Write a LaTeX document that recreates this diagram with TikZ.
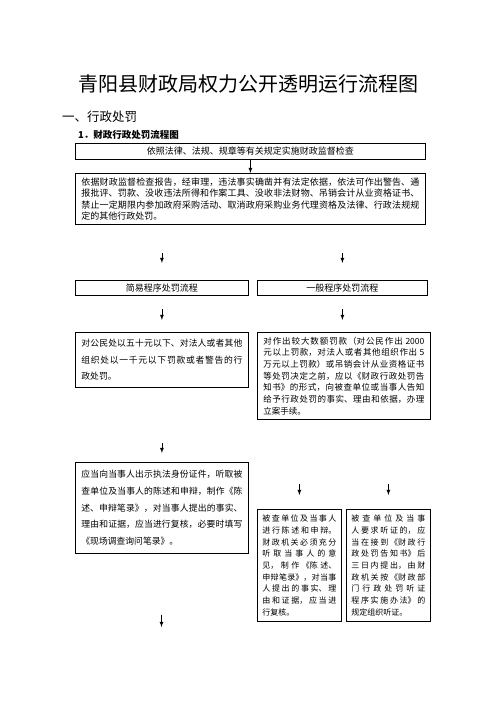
\documentclass[tikz,border=0pt]{standalone}
\usepackage{fontspec}
\setmainfont{Noto Sans CJK SC}
\usepackage{tikz}
\usetikzlibrary{arrows,calc}
\XeTeXlinebreaklocale "zh"
\XeTeXlinebreakskip = 0pt plus 1pt
\newcommand\fsz[2]{\fontsize{#1pt}{#2pt}\selectfont}
\tikzset{
  basic/.style  = {draw, rectangle, line width=0.8pt, anchor=north west,
                   inner xsep=6pt, inner ysep=3pt},
  head/.style   = {basic, align=center, font=\fsz{9}{11}, minimum height=16pt},
  para/.style   = {basic, align=justify, font=\fsz{9}{11.5}},
  wide/.style   = {para, text width=338pt},
  half/.style   = {para, text width=161pt, font=\fsz{8.8}{16.7}},
  narrow/.style = {para, text width=74pt, inner xsep=5pt, font=\fsz{8}{11.7}},
  post/.style   = {->, >=latex, line width=0.8pt}
}

\begin{document}
\begin{tikzpicture}[x=1pt,y=-1pt]
  \useasboundingbox (0,0) rectangle (496,702);
  \node[font=\fsz{20}{22}, inner sep=0] (title) at (248,84) {青阳县财政局权力公开透明运行流程图};
  \node[font=\fsz{12.5}{14}, inner sep=0, anchor=west] (sec) at (62,117) {一、行政处罚};
  \node[font=\fsz{9.5}{11}\bfseries, inner sep=0, anchor=west] (sub) at (78,135) {1．财政行政处罚流程图};

  \node[head, minimum width=350pt] (chk) at (75,143) {依照法律、法规、规章等有关规定实施财政监督检查};
  \node[wide, minimum height=51pt] (rep) at (75,173) {依据财政监督检查报告，经审理，违法事实确凿并有法定依据，依法可作出警告、通\linebreak 报批评、罚款、没收违法所得和作案工具、没收非法财物、吊销会计从业资格证书、\linebreak 禁止一定期限内参加政府采购活动、取消政府采购业务代理资格及法律、行政法规规\linebreak 定的其他行政处罚。};
  \node[head, minimum width=173pt, minimum height=15pt] (simple) at (75,280) {简易程序处罚流程};
  \node[head, minimum width=170pt, minimum height=15pt] (general) at (257,280) {一般程序处罚流程};
  \node[half, minimum height=55pt] (fine) at (75,332) {对公民处以五十元以下、对法人或者其他\linebreak 组织处以一千元以下罚款或者警告的行\linebreak 政处罚。};
  \node[half, font=\fsz{8.5}{11.7}, minimum height=87pt] (big) at (257,332) {对作出较大数额罚款（对公民作出 2000\linebreak 元以上罚款，对法人或者其他组织作出 5\linebreak 万元以上罚款）或吊销会计从业资格证书\linebreak 等处罚决定之前，应以《财政行政处罚告\linebreak 知书》的形式，向被查单位或当事人告知\linebreak 给予行政处罚的事实、理由和依据，办理\linebreak 立案手续。};
  \node[half, minimum height=91pt] (onsite) at (75,462) {应当向当事人出示执法身份证件，听取被\linebreak 查单位及当事人的陈述和申辩，制作《陈\linebreak 述、申辩笔录》，对当事人提出的事实、\linebreak 理由和证据，应当进行复核，必要时填写\linebreak 《现场调查询问笔录》。};
  \node[narrow, minimum height=112pt] (state) at (257,509) {被查单位及当事人\linebreak 进行陈述和申辩。\linebreak 财政机关必须充分\linebreak 听取当事人的意\linebreak 见，制作《陈述、\linebreak 申辩笔录》，对当事\linebreak 人提出的事实、理\linebreak 由和证据，应当进\linebreak 行复核。};
  \node[narrow, minimum height=112pt] (hear) at (346,509) {被查单位及当事\linebreak 人要求听证的，应\linebreak 当在接到《财政行\linebreak 政处罚告知书》后\linebreak 三日内提出，由财\linebreak 政机关按《财政部\linebreak 门行政处罚听证\linebreak 程序实施办法》的\linebreak 规定组织听证。};
  \coordinate (next) at (161.5,627);

  \draw[post] (chk) -- (rep);
  \draw[post, shorten <=28pt, shorten >=17pt] (rep.south -| simple.north) -- (simple.north);
  \draw[post, shorten <=28pt, shorten >=17pt] (rep.south -| general.north) -- (general.north);
  \draw[post, shorten <=13pt, shorten >=12pt] (simple) -- (fine);
  \draw[post, shorten <=13pt, shorten >=12pt] (general.south) -- (general.south |- big.north);
  \draw[post, shorten <=55pt, shorten >=9pt] (fine) -- (onsite);
  \draw[post, shorten <=64pt, shorten >=14pt] (big.south -| state.north) -- (state.north);
  \draw[post, shorten <=64pt, shorten >=14pt] (big.south -| hear.north) -- (hear.north);
  \draw[post, shorten <=61pt] (onsite) -- (next);
\end{tikzpicture}
\end{document}
